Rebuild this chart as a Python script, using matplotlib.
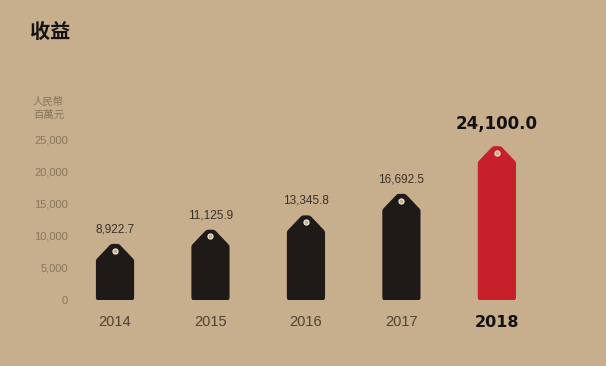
import matplotlib.pyplot as plt
from matplotlib.patches import Polygon

# Data
years = ["2014", "2015", "2016", "2017", "2018"]
revenue = [8922.7, 11125.9, 13345.8, 16692.5, 24100.0]
value_labels = ["8,922.7", "11,125.9", "13,345.8", "16,692.5", "24,100.0"]
yticks = [0, 5000, 10000, 15000, 20000, 25000]
ytick_labels = ["0", "5,000", "10,000", "15,000", "20,000", "25,000"]

BG = "#c7ae8c"
DARK = "#1e1a17"
RED = "#c8202b"
GREY = "#86765f"

plt.rcParams["font.family"] = ["Liberation Sans", "Noto Sans CJK TC", "DejaVu Sans"]

fig = plt.figure(figsize=(6.06, 3.66), dpi=100, facecolor=BG)
W, H = 606, 366
# axes: 0 at y=300px, x from 75px to 600px, top at 100px
ax = fig.add_axes([75 / W, (H - 300) / H, 525 / W, 200 / H])
ax.set_facecolor(BG)
ax.set_xlim(-0.419, 5.08)
ax.set_ylim(0, 31056)

# tag shape (inset polygon, rounded by a thick round-joined edge)
half_w = 0.16
top_w = 0.025
shoulder = 2100
inset_y = 400

for i, (yr, v, lab) in enumerate(zip(years, revenue, value_labels)):
    last = i == len(years) - 1
    color = RED if last else DARK
    apex = v - 800
    pts = [
        (i - half_w, inset_y),
        (i + half_w, inset_y),
        (i + half_w, apex - shoulder),
        (i + top_w, apex),
        (i - top_w, apex),
        (i - half_w, apex - shoulder),
    ]
    ax.add_patch(Polygon(pts, closed=True, facecolor=color, edgecolor=color,
                         linewidth=5.5, joinstyle="round"))
    # tag hole
    ax.scatter(i, apex - 450, s=13, facecolor=BG, edgecolor="#efe6d8",
               linewidth=0.9, zorder=3)
    if last:
        ax.text(i, v + 1800, lab, ha="center", va="bottom", fontsize=12,
                fontweight="bold", color="#141210", family="DejaVu Sans")
        ax.text(i, -2300, yr, ha="center", va="top", fontsize=11.5,
                fontweight="bold", color="#141210", family="DejaVu Sans")
    else:
        ax.text(i, v + 1100, lab, ha="center", va="bottom", fontsize=8.5,
                color="#3a3129")
        ax.text(i, -2300, yr, ha="center", va="top", fontsize=10.5,
                color="#4d4237")

ax.set_yticks(yticks)
ax.set_yticklabels(ytick_labels, fontsize=8, color=GREY)
ax.tick_params(axis="y", length=0, pad=5)
ax.set_xticks([])
for s in ax.spines.values():
    s.set_visible(False)

fig.text(30 / W, 1 - 32 / H, "收益", fontsize=14.5, fontweight="heavy",
         color="#151311", va="center", ha="left",
         family=["Noto Sans CJK TC", "DejaVu Sans"])
fig.text(33 / W, 1 - 108 / H, "人民幣\n百萬元", fontsize=7.5, color=GREY,
         va="center", ha="left", linespacing=1.3,
         family=["Noto Sans CJK TC", "DejaVu Sans"])

fig.savefig("out.png", dpi=100, facecolor=BG)
